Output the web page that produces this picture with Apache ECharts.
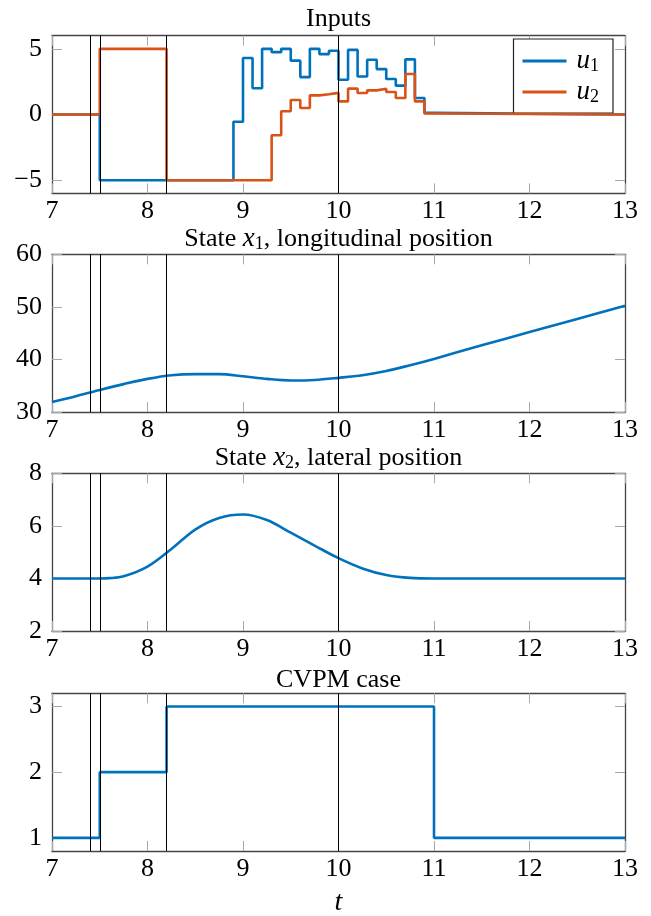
<!DOCTYPE html>
<html><head><meta charset="utf-8">
<script src="https://cdn.jsdelivr.net/npm/echarts@6/dist/echarts.min.js"></script>
<style>html,body{margin:0;padding:0;background:#fff}#c{width:651px;height:916px}</style>
</head><body><div id="c"></div>
<script>
// ---------- DATA ----------
const xTicks = [7, 8, 9, 10, 11, 12, 13];
const eventTimes = [7.4, 7.5, 8.2, 10];

// Inputs (zero-order hold, value holds from time to next time)
const uTimes = [7.0, 7.5, 8.2, 8.9, 9.0, 9.1, 9.2, 9.3, 9.4, 9.5, 9.6, 9.7, 9.8, 9.9,
                10.0, 10.1, 10.2, 10.3, 10.4, 10.5, 10.6, 10.7, 10.8, 10.9, 11.0, 13.0];
const u1 = [0, -5, -5, -0.55, 4.3, 2.0, 5.0, 4.75, 5.0, 4.1, 2.85, 5.0, 4.6, 4.85,
            2.65, 4.92, 2.9, 4.17, 3.46, 2.7, 2.2, 4.2, 1.26, 0.13, 0, 0];
const u2 = [0, 5, -5, -5, -5, -5, -5, -1.57, 0.25, 1.11, 0.5, 1.46, 1.55, 1.65,
            1.0, 1.97, 1.64, 1.84, 1.97, 1.72, 1.26, 3.08, 1.0, 0.08, 0, 0];
const uTicks = [-5, 0, 5];

// State x1
const x1Times = [7.0, 7.25, 7.5, 7.75, 8.0, 8.25, 8.5, 8.75, 9.0, 9.25, 9.5, 9.75,
                 10.0, 10.25, 10.5, 10.75, 11.0, 11.5, 12.0, 12.5, 13.0];
const x1Vals = [31.9, 33.0, 34.2, 35.3, 36.3, 37.0, 37.2, 37.2, 36.8, 36.3, 36.0, 36.1,
                36.5, 37.0, 37.8, 38.9, 40.1, 42.7, 45.2, 47.7, 50.2];
const x1Ticks = [30, 40, 50, 60];

// State x2
const x2Times = [7.0, 7.25, 7.5, 7.6, 7.75, 8.0, 8.25, 8.5, 8.75, 9.0, 9.25, 9.5, 9.75,
                 10.0, 10.25, 10.5, 10.75, 11.0, 11.5, 12.0, 13.0];
const x2Vals = [4.0, 4.0, 4.0, 4.01, 4.08, 4.45, 5.12, 5.86, 6.3, 6.43, 6.22, 5.74, 5.25,
                4.77, 4.38, 4.13, 4.02, 4.0, 4.0, 4.0, 4.0];
const x2Ticks = [2, 4, 6, 8];

// CVPM case
const caseTimes = [7.0, 7.5, 8.2, 11.0, 13.0];
const caseVals = [1, 2, 3, 1, 1];
const caseTicks = [1, 2, 3];

// ---------- LAYOUT ----------
const BLUE = '#0072BD', ORANGE = '#D95319';
const FONT = '"Liberation Serif", "DejaVu Serif", serif';
const FS = 26;
const tops = [35.7, 254.3, 473.3, 693.3];
const H = 157.7, L = 52, R = 26;
const yRanges = [[-6, 6, uTicks], [30, 60, x1Ticks], [2, 8, x2Ticks], [0.8, 3.2, caseTicks]];

const zip = (a, b) => a.map((v, i) => [v, b[i]]);
const minus = v => String(v).replace('-', '\u2212');

const grids = [], xAxes = [], yAxes = [];
tops.forEach((t, i) => {
  grids.push({ left: L, right: R, top: t, height: H, containLabel: false });
  const tickStyle = { show: true, inside: true, length: 10, lineStyle: { color: '#a8a8a8', width: 1 } };
  const axisLine = { show: true, onZero: false, lineStyle: { color: '#444', width: 1.3 } };
  xAxes.push({ type: 'value', gridIndex: i, position: 'bottom', min: 7, max: 13, interval: 1,
    axisLine, axisTick: Object.assign({}, tickStyle, { customValues: xTicks }), splitLine: { show: false },
    axisLabel: { show: true, customValues: xTicks, fontFamily: FONT, fontSize: FS, color: '#000', margin: 5 } });
  xAxes.push({ type: 'value', gridIndex: i, position: 'top', min: 7, max: 13, interval: 1,
    axisLine, axisTick: Object.assign({}, tickStyle, { customValues: xTicks }), splitLine: { show: false },
    axisLabel: { show: false } });
  const [mn, mx, ticks] = yRanges[i];
  const yCommon = { type: 'value', gridIndex: i, min: mn, max: mx, splitLine: { show: false }, axisLine };
  yAxes.push(Object.assign({}, yCommon, { position: 'left',
    axisTick: Object.assign({}, tickStyle, { customValues: ticks }),
    axisLabel: { show: true, customValues: ticks, fontFamily: FONT, fontSize: FS, color: '#000', margin: 10,
      formatter: v => minus(v) } }));
  yAxes.push(Object.assign({}, yCommon, { position: 'right',
    axisTick: Object.assign({}, tickStyle, { customValues: ticks }),
    axisLabel: { show: false } }));
});

const evMark = {
  silent: true, symbol: ['none', 'none'], label: { show: false },
  lineStyle: { color: '#000', width: 1, type: 'solid' },
  animation: false,
  data: eventTimes.map(t => ({ xAxis: t }))
};

const series = [];
for (let i = 0; i < 4; i++) {
  series.push({ type: 'line', xAxisIndex: 2 * i, yAxisIndex: 2 * i, data: [], markLine: evMark, z: 1 });
}
series.push({ name: 'u1', type: 'line', xAxisIndex: 0, yAxisIndex: 0, step: 'end', showSymbol: false,
  data: zip(uTimes, u1), lineStyle: { color: BLUE, width: 2.6 }, itemStyle: { color: BLUE }, z: 3 });
series.push({ name: 'u2', type: 'line', xAxisIndex: 0, yAxisIndex: 0, step: 'end', showSymbol: false,
  data: zip(uTimes, u2), lineStyle: { color: ORANGE, width: 2.6 }, itemStyle: { color: ORANGE }, z: 4 });
series.push({ type: 'line', xAxisIndex: 2, yAxisIndex: 2, smooth: 0.35, showSymbol: false,
  data: zip(x1Times, x1Vals), lineStyle: { color: BLUE, width: 2.6 }, z: 3 });
series.push({ type: 'line', xAxisIndex: 4, yAxisIndex: 4, smooth: 0.35, showSymbol: false,
  data: zip(x2Times, x2Vals), lineStyle: { color: BLUE, width: 2.6 }, z: 3 });
series.push({ type: 'line', xAxisIndex: 6, yAxisIndex: 6, step: 'end', showSymbol: false,
  data: zip(caseTimes, caseVals), lineStyle: { color: BLUE, width: 2.6 }, z: 3 });

const cx = L + (651 - L - R) / 2;
const richT = {
  n: { fontFamily: FONT, fontSize: FS, color: '#000' },
  i: { fontFamily: FONT, fontSize: FS + 1, fontStyle: 'italic', color: '#000' },
  s: { fontFamily: FONT, fontSize: 18, color: '#000', padding: [11, 0, 0, 0] }
};
function titleText(txt, y) {
  return { type: 'text', x: cx, y: y, style: { text: txt, rich: richT, align: 'center', verticalAlign: 'middle',
    fontFamily: FONT, fontSize: FS, fill: '#000' } };
}

const option = {
  animation: false,
  backgroundColor: '#fff',
  grid: grids, xAxis: xAxes, yAxis: yAxes, series,
  legend: {
    data: ['u1', 'u2'], orient: 'vertical', right: 38, top: 39,
    backgroundColor: '#fff', borderColor: '#222', borderWidth: 1.2,
    padding: [8, 14, 7, 9], itemGap: 3, itemWidth: 44, itemHeight: 3, icon: 'rect',
    formatter: n => '{i|u}{s|' + n.slice(1) + '}',
    textStyle: { lineHeight: 22, rich: {
      i: { fontFamily: FONT, fontSize: 27, fontStyle: 'italic', color: '#000', lineHeight: 22, padding: [0, 0, 0, 5] },
      s: { fontFamily: FONT, fontSize: 18, color: '#000', lineHeight: 22, padding: [10, 0, 0, 0] } } }
  },
  graphic: [
    titleText('{n|Inputs}', 19),
    titleText('{n|State }{i|x}{s|1}{n|, longitudinal position}', 239),
    titleText('{n|State }{i|x}{s|2}{n|, lateral position}', 458),
    titleText('{n|CVPM case}', 680),
    { type: 'text', x: cx, y: 903, style: { text: 't', align: 'center', verticalAlign: 'middle',
      fontFamily: FONT, fontSize: 28, fontStyle: 'italic', fill: '#000' } }
  ]
};
const chart = echarts.init(document.getElementById('c'), null, { renderer: 'canvas' });
chart.setOption(option);
</script></body></html>
